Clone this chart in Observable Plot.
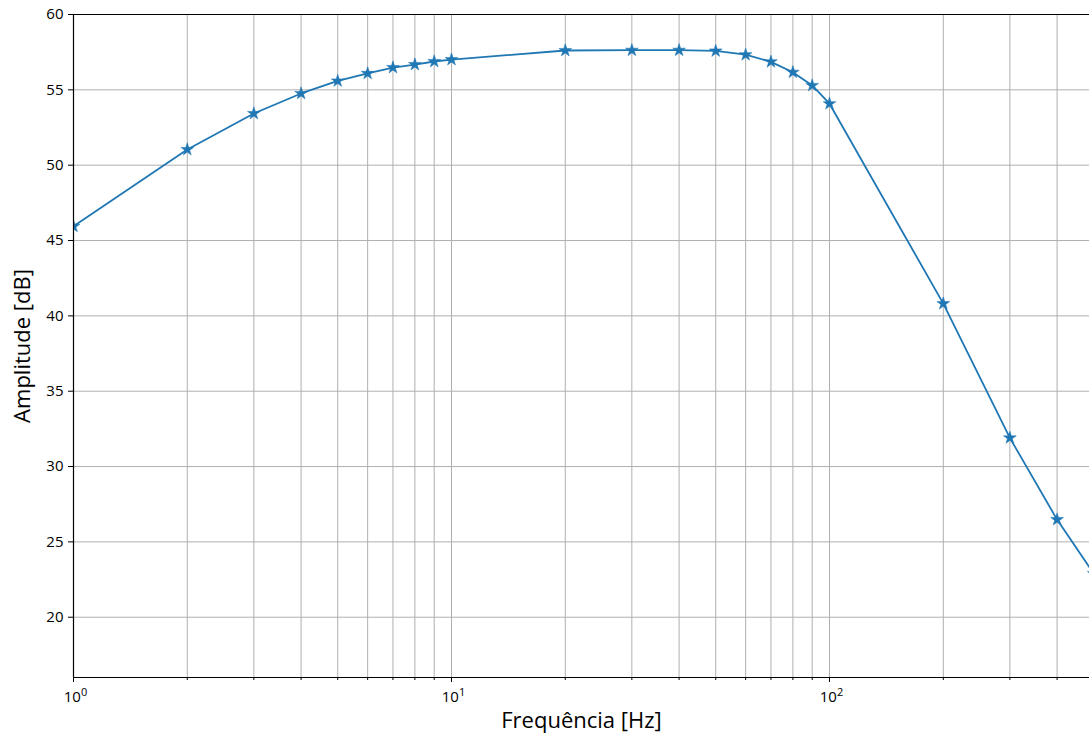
<!DOCTYPE html>
<html>
<head>
<meta charset="utf-8">
<script src="https://cdn.jsdelivr.net/npm/d3@7"></script>
<script src="https://cdn.jsdelivr.net/npm/@observablehq/plot@0.6"></script>
<style>
  html, body { margin: 0; padding: 0; background: white; overflow: hidden; }
  #chart svg { display: block; }
</style>
</head>
<body>
<div id="chart"></div>
<script>
const freqs = [1, 2, 3, 4, 5, 6, 7, 8, 9, 10, 20, 30, 40, 50, 60, 70, 80, 90, 100, 200, 300, 400, 500];
const amps = [45.94, 51.04, 53.43, 54.76, 55.59, 56.09, 56.48, 56.68, 56.88, 57.01, 57.61, 57.63, 57.63, 57.58, 57.33, 56.86, 56.17, 55.29, 54.08, 40.81, 31.9, 26.48, 22.9];
const majorXTicks = [1, 10, 100];
const majorXExponents = ["0", "1", "2"];
const minorXTicks = [2, 3, 4, 5, 6, 7, 8, 9, 20, 30, 40, 50, 60, 70, 80, 90, 200, 300, 400];
const yTicks = [20, 25, 30, 35, 40, 45, 50, 55, 60];
const xTitle = "Frequência [Hz]";
const yTitle = "Amplitude [dB]";

const data = freqs.map((f, i) => ({f, a: amps[i]}));
const font = "'Open Sans', sans-serif";
const blue = "#1f77b4";
const gridColor = "#b0b0b0";

const chart = Plot.plot({
  width: 1089,
  height: 739,
  marginLeft: 73,
  marginRight: 0,
  marginTop: 14,
  marginBottom: 62,
  style: {fontFamily: font, background: "white", color: "black"},
  x: {type: "log", domain: [1, 487.3]},
  y: {domain: [16, 60]},
  marks: [
    Plot.ruleX(majorXTicks.concat(minorXTicks), {stroke: gridColor, strokeWidth: 1}),
    Plot.ruleY(yTicks, {stroke: gridColor, strokeWidth: 1}),
    Plot.line(data, {x: "f", y: "a", stroke: blue, strokeWidth: 1.8, clip: true}),
    Plot.dot(data, {x: "f", y: "a", symbol: "star", fill: blue, stroke: blue, strokeWidth: 0.5, r: 4, clip: true}),
    Plot.ruleX([1], {stroke: "black", strokeWidth: 1.2}),
    Plot.ruleY([16], {stroke: "black", strokeWidth: 1.2}),
    Plot.ruleY([60], {stroke: "black", strokeWidth: 1.2}),
    Plot.axisY({ticks: yTicks, tickSize: 5, tickPadding: 5, fontSize: 15, label: null, tickFormat: d => String(d)}),
    Plot.axisX({ticks: majorXTicks, tickSize: 5, tickPadding: 9, fontSize: 15, label: null,
      tickFormat: d => "10^" + majorXExponents[majorXTicks.indexOf(d)]}),
    Plot.axisX({ticks: minorXTicks, tickSize: 3, tickFormat: () => "", label: null}),
    Plot.text([yTitle], {frameAnchor: "left", textAnchor: "middle", rotate: -90, dx: -51, fontSize: 22, fill: "black"}),
    Plot.text([xTitle], {frameAnchor: "bottom", textAnchor: "middle", dy: 50, fontSize: 22, fill: "black"})
  ]
});

// render exponents of the major x tick labels as superscripts
chart.querySelectorAll("text").forEach(t => {
  const s = t.textContent;
  const k = s.indexOf("^");
  if (k > 0) {
    const base = s.slice(0, k), exp = s.slice(k + 1);
    while (t.firstChild) t.removeChild(t.firstChild);
    const b = document.createElementNS("http://www.w3.org/2000/svg", "tspan");
    b.textContent = base;
    const e = document.createElementNS("http://www.w3.org/2000/svg", "tspan");
    e.setAttribute("dy", "-6");
    e.setAttribute("font-size", "11");
    e.textContent = exp;
    t.appendChild(b);
    t.appendChild(e);
    t.setAttribute("dx", "2");
  }
});
document.getElementById("chart").appendChild(chart);
</script>
</body>
</html>
